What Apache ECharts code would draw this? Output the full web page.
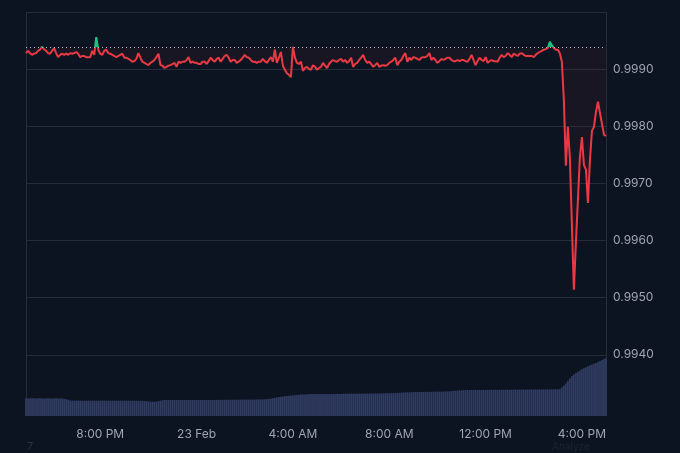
<!DOCTYPE html>
<html><head><meta charset="utf-8">
<script src="https://cdn.jsdelivr.net/npm/echarts@6/dist/echarts.min.js"></script>
<style>html,body{margin:0;padding:0;background:#0d1421;}#c{width:680px;height:453px;}</style>
</head><body><div id="c"></div>
<script>
// time axis: 5-minute steps starting 22 Feb 16:55
const startDay = 22, startMinute = 16 * 60 + 55, stepMinutes = 5;

const priceData = [
0.99928,0.99932,0.99928,0.99925,0.99927,0.99928,0.99932,0.99934,0.99939,0.99935,
0.99932,0.99928,0.99927,0.99932,0.99937,0.99928,0.99921,0.99925,0.99927,0.99925,
0.99927,0.99925,0.99928,0.99927,0.99928,0.99930,0.99927,0.99921,0.99923,0.99923,
0.99921,0.99921,0.99921,0.99932,0.99925,0.99956,0.99934,0.99927,0.99925,0.99932,
0.99934,0.99928,0.99927,0.99925,0.99923,0.99921,0.99923,0.99925,0.99927,0.99920,
0.99920,0.99918,0.99916,0.99913,0.99914,0.99918,0.99928,0.99920,0.99913,0.99911,
0.99909,0.99907,0.99911,0.99913,0.99916,0.99921,0.99927,0.99907,0.99906,0.99902,
0.99904,0.99906,0.99907,0.99909,0.99911,0.99904,0.99913,0.99911,0.99913,0.99913,
0.99916,0.99921,0.99911,0.99913,0.99911,0.99911,0.99909,0.99909,0.99913,0.99913,
0.99909,0.99914,0.99920,0.99916,0.99913,0.99918,0.99920,0.99913,0.99918,0.99923,
0.99925,0.99920,0.99913,0.99916,0.99916,0.99911,0.99913,0.99916,0.99920,0.99925,
0.99921,0.99920,0.99916,0.99913,0.99913,0.99911,0.99913,0.99913,0.99918,0.99914,
0.99911,0.99916,0.99921,0.99913,0.99934,0.99911,0.99920,0.99930,0.99906,0.99899,
0.99893,0.99890,0.99886,0.99939,0.99920,0.99911,0.99909,0.99913,0.99897,0.99902,
0.99904,0.99900,0.99899,0.99907,0.99904,0.99899,0.99902,0.99904,0.99911,0.99906,
0.99902,0.99909,0.99913,0.99916,0.99914,0.99913,0.99916,0.99918,0.99913,0.99916,
0.99911,0.99914,0.99920,0.99904,0.99909,0.99911,0.99916,0.99920,0.99925,0.99916,
0.99911,0.99913,0.99909,0.99904,0.99907,0.99911,0.99904,0.99906,0.99907,0.99906,
0.99907,0.99911,0.99913,0.99916,0.99920,0.99907,0.99913,0.99916,0.99923,0.99928,
0.99913,0.99920,0.99916,0.99921,0.99920,0.99918,0.99916,0.99920,0.99921,0.99921,
0.99923,0.99928,0.99916,0.99920,0.99916,0.99911,0.99914,0.99918,0.99916,0.99918,
0.99920,0.99920,0.99916,0.99914,0.99914,0.99916,0.99914,0.99916,0.99916,0.99914,
0.99913,0.99918,0.99925,0.99916,0.99907,0.99914,0.99920,0.99916,0.99914,0.99921,
0.99911,0.99914,0.99916,0.99914,0.99914,0.99913,0.99920,0.99925,0.99921,0.99923,
0.99928,0.99925,0.99921,0.99927,0.99925,0.99923,0.99927,0.99928,0.99925,0.99923,
0.99923,0.99923,0.99923,0.99921,0.99925,0.99928,0.99930,0.99932,0.99934,0.99935,
0.99937,0.99948,0.99942,0.99937,0.99934,0.99934,0.99928,0.99913,0.99846,0.99731,
0.99799,0.99745,0.99627,0.99514,0.99596,0.99671,0.99746,0.99781,0.99732,0.99724,
0.99666,0.99741,0.99792,0.99799,0.99825,0.99843,0.99823,0.99804,0.99785,0.99783
];

const volumeData = [
17.8,17.6,17.7,17.7,17.8,17.6,17.7,17.7,17.6,17.5,
17.6,17.7,17.6,17.5,17.6,17.7,17.6,17.5,17.4,17.2,
16.8,16.2,15.6,15.4,15.3,15.3,15.4,15.3,15.3,15.2,
15.3,15.3,15.4,15.3,15.3,15.2,15.3,15.3,15.3,15.4,
15.3,15.3,15.2,15.3,15.3,15.3,15.2,15.3,15.3,15.3,
15.3,15.2,15.3,15.3,15.2,15.2,15.3,15.2,15.1,15.0,
14.8,14.6,14.4,14.3,14.3,14.4,14.8,15.4,15.8,16.0,
16.0,15.9,16.0,16.0,16.0,16.1,16.0,16.0,15.9,16.0,
16.0,16.1,16.0,16.0,16.0,16.0,16.1,16.0,16.0,16.1,
16.0,16.0,16.1,16.1,16.0,16.1,16.1,16.1,16.2,16.2,
16.2,16.2,16.2,16.3,16.2,16.3,16.3,16.3,16.3,16.4,
16.4,16.4,16.4,16.5,16.5,16.5,16.6,16.6,16.7,16.8,
16.9,17.1,17.4,17.8,18.2,18.6,19.0,19.3,19.6,19.8,
20.0,20.2,20.4,20.6,20.8,21.0,21.2,21.4,21.5,21.6,
21.7,21.8,21.9,22.0,22.0,22.0,22.1,22.0,22.0,22.1,
22.1,22.0,22.1,22.1,22.1,22.2,22.1,22.1,22.2,22.2,
22.2,22.2,22.3,22.2,22.3,22.3,22.3,22.4,22.3,22.4,
22.4,22.4,22.5,22.5,22.5,22.6,22.5,22.6,22.6,22.7,
22.7,22.8,22.8,22.9,23.0,23.1,23.2,23.3,23.4,23.5,
23.6,23.7,23.8,23.9,24.0,24.0,24.1,24.0,24.1,24.1,
24.2,24.1,24.2,24.2,24.3,24.3,24.3,24.4,24.4,24.5,
24.6,24.7,24.9,25.1,25.3,25.5,25.6,25.7,25.8,25.9,
26.0,26.0,26.0,26.1,26.0,26.1,26.1,26.0,26.1,26.1,
26.1,26.2,26.1,26.2,26.2,26.2,26.2,26.3,26.2,26.3,
26.3,26.3,26.3,26.3,26.4,26.3,26.4,26.4,26.4,26.4,
26.4,26.5,26.4,26.5,26.5,26.5,26.5,26.5,26.6,26.6,
26.6,26.6,26.7,26.7,26.7,26.8,26.9,28.5,30.5,32.5,
35.0,37.5,40.0,41.5,43.0,44.3,45.5,46.7,47.8,48.8,
49.8,50.7,51.5,52.3,53.0,54.0,55.0,56.0,57.0,57.7
];

const baselinePrice = 0.99938;
const priceAxisMin = 0.9930, priceAxisMax = 1.0000, priceAxisStep = 0.001;
const volumeAxisMax = 100;

const pad2 = n => String(n).padStart(2, '0');
const categories = priceData.map((_, i) => {
  const t = startMinute + i * stepMinutes;
  const d = startDay + Math.floor(t / 1440);
  const m = t % 1440;
  return d + ' Feb ' + pad2(Math.floor(m / 60)) + ':' + pad2(m % 60);
});
const pricePairs = priceData.map((v, i) => [categories[i], v]);
const volumePairs = volumeData.map((v, i) => [categories[i], v]);

function isLabelTick(val) {
  const hm = val.slice(-5);
  const h = +hm.slice(0, 2), mm = +hm.slice(3);
  return mm === 0 && h % 4 === 0;
}
function fmtTime(val) {
  const hm = val.slice(-5);
  const h = +hm.slice(0, 2);
  if (h === 0) return val.slice(0, -6);
  const h12 = h % 12 === 0 ? 12 : h % 12;
  return h12 + ':00 ' + (h < 12 ? 'AM' : 'PM');
}

const GRID_C = '#252c3a';
const TEXT_C = '#9fa5b1';
const RED = '#ea3943', GREEN = '#16c784';
const FONT = 'Inter, Roboto, "Noto Sans", sans-serif';

const chart = echarts.init(document.getElementById('c'), null, {renderer: 'canvas'});
chart.setOption({
  backgroundColor: '#0d1421',
  animation: false,
  textStyle: {fontFamily: FONT},
  grid: [
    {left: 26, right: 74, top: 12, height: 400},
    {left: 26, right: 74, bottom: 37, height: 100}
  ],
  xAxis: [
    {type: 'category', gridIndex: 0, data: categories, boundaryGap: false, show: false},
    {type: 'category', gridIndex: 1, data: categories, boundaryGap: false,
     axisLine: {show: false}, axisTick: {show: false},
     axisLabel: {interval: (idx, val) => isLabelTick(val), formatter: fmtTime,
                 color: TEXT_C, fontSize: 12, margin: 12, fontFamily: FONT}}
  ],
  yAxis: [
    {type: 'value', gridIndex: 0, position: 'right', min: priceAxisMin, max: priceAxisMax, interval: priceAxisStep,
     axisLine: {show: true, lineStyle: {color: GRID_C}}, axisTick: {show: false},
     axisLabel: {showMinLabel: false, showMaxLabel: false, color: TEXT_C, fontSize: 12, margin: 7,
                 formatter: v => v.toFixed(4), fontFamily: FONT},
     splitLine: {show: true, showMinLine: false, showMaxLine: true, lineStyle: {color: GRID_C, width: 1}}},
    {type: 'value', gridIndex: 1, position: 'left', min: 0, max: volumeAxisMax,
     axisLine: {show: true, lineStyle: {color: GRID_C}}, axisTick: {show: false},
     axisLabel: {show: false}, splitLine: {show: false}},
    {type: 'value', gridIndex: 0, position: 'left', min: priceAxisMin, max: priceAxisMax,
     axisLine: {show: true, lineStyle: {color: GRID_C}}, axisTick: {show: false},
     axisLabel: {show: false}, splitLine: {show: false}}
  ],
  visualMap: [
    {type: 'piecewise', show: false, seriesIndex: 1, dimension: 1,
     pieces: [{gt: 0.98, lte: baselinePrice, color: RED}, {gt: baselinePrice, lte: 1.02, color: GREEN}]},
    {type: 'piecewise', show: false, seriesIndex: 0, dimension: 1,
     pieces: [{gt: 0.98, lte: baselinePrice, color: 'rgba(234,57,67,0.05)'}, {gt: baselinePrice, lte: 1.02, color: 'rgba(22,199,132,0.85)'}]}
  ],
  series: [
    {type: 'line', name: 'area', xAxisIndex: 0, yAxisIndex: 0, data: pricePairs, symbol: 'none',
     lineStyle: {width: 0, opacity: 0}, areaStyle: {origin: baselinePrice, opacity: 1}, z: 2, silent: true},
    {type: 'line', name: 'Price', xAxisIndex: 0, yAxisIndex: 0, data: pricePairs, symbol: 'none',
     lineStyle: {width: 2}, z: 4,
     markLine: {silent: true, symbol: ['none', 'none'], label: {show: false},
                lineStyle: {color: '#b4bac6', type: [1, 3], width: 1},
                data: [[{coord: [categories[0], baselinePrice]}, {coord: [categories[categories.length - 1], baselinePrice]}]]}},
    {type: 'bar', name: 'Volume', xAxisIndex: 1, yAxisIndex: 1, data: volumePairs,
     itemStyle: {color: '#313c62'}, barCategoryGap: '12%', z: 1}
  ],
  graphic: [
    {type: 'text', left: 27, top: 441, style: {text: '7', fill: '#2a3243', font: '11px ' + FONT}},
    {type: 'text', left: 552, top: 442, style: {text: 'Analyze', fill: '#1c2332', font: '10px ' + FONT}}
  ]
});
</script>
</body></html>
